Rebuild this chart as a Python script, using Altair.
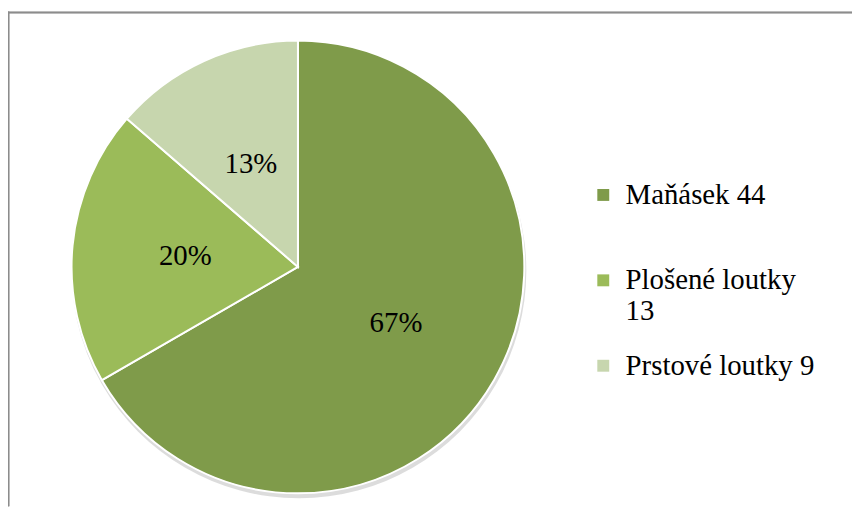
import altair as alt
import pandas as pd

categories = ["Maňásek 44", "Plošené loutky 13", "Prstové loutky 9"]
values = [44, 13, 9]
pct_labels = ["67%", "20%", "13%"]
colors = ["#7F9B4A", "#9BBB59", "#C7D6AE"]

df = pd.DataFrame({"cat": categories, "value": values, "pct": pct_labels, "idx": [0, 1, 2]})

CX, CY, R = 292, 259, 228
FONT = "Times New Roman"

theta = alt.Theta("value:Q", stack=True)
order = alt.Order("idx:O")

shadow = alt.Chart(df).mark_arc(color="#9a9a9a", opacity=0.35, radius=R + 1).encode(
    theta=theta, order=order, x=alt.value(CX + 1), y=alt.value(CY + 4)
)

label_expr = (
    "datum.label == 'Plošené loutky 13' ? ['Plošené loutky', '13'] : [datum.label, ' ']"
)

pie = alt.Chart(df).mark_arc(radius=R, stroke="white", strokeWidth=2).encode(
    theta=theta,
    order=order,
    x=alt.value(CX),
    y=alt.value(CY),
    color=alt.Color(
        "cat:N",
        scale=alt.Scale(domain=categories, range=colors),
        legend=alt.Legend(
            title=None,
            orient="none",
            legendX=585,
            legendY=172,
            symbolType="square",
            symbolSize=144,
            symbolStrokeWidth=0,
            labelFont=FONT,
            labelFontSize=29,
            labelColor="black",
            labelOffset=8,
            labelLimit=400,
            rowPadding=25,
            padding=0,
            labelExpr=label_expr,
        ),
    ),
)

labels = alt.Chart(df).mark_text(
    radius=114, font=FONT, fontSize=29, color="black", baseline="middle"
).encode(theta=theta, order=order, x=alt.value(CX), y=alt.value(CY), text="pct:N")

top_border = alt.Chart(df).mark_rule(color="#8c8c8c", strokeWidth=1.5).encode(
    x=alt.value(0), x2=alt.value(850), y=alt.value(2.75)
)
left_border = alt.Chart(df).mark_rule(color="#8c8c8c", strokeWidth=1.5).encode(
    x=alt.value(0.5), y=alt.value(2), y2=alt.value(500)
)

chart = (
    alt.layer(shadow, pie, labels, top_border, left_border)
    .properties(width=850, height=500, autosize=alt.AutoSizeParams(type="none"), padding=0)
    .configure_view(stroke=None)
)

chart.save("out.html", embed_options={"renderer": "svg", "actions": False})
